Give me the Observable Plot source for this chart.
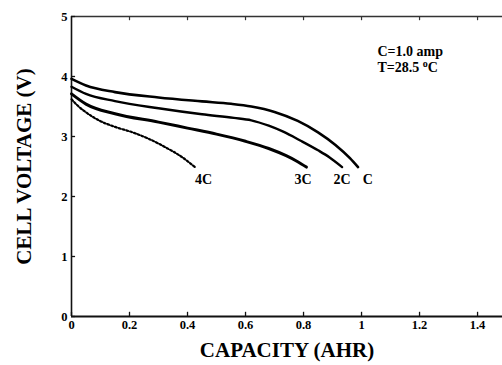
<!DOCTYPE html>
<html>
<head>
<meta charset="utf-8">
<script src="https://cdn.jsdelivr.net/npm/d3@7"></script>
<script src="https://cdn.jsdelivr.net/npm/@observablehq/plot@0.6"></script>
<style>
  html, body { margin: 0; padding: 0; background: white; }
  #chart { width: 502px; height: 365px; overflow: hidden; }
</style>
</head>
<body>
<div id="chart"></div>
<script>
// ---- Data ----
const capC  = [0, 0.05, 0.15, 0.30, 0.45, 0.55, 0.62, 0.70, 0.78, 0.85, 0.91, 0.96, 0.988];
const voltC = [3.96, 3.85, 3.74, 3.65, 3.585, 3.545, 3.50, 3.41, 3.26, 3.07, 2.86, 2.64, 2.49];

const cap2C  = [0, 0.05, 0.15, 0.30, 0.45, 0.56, 0.62, 0.68, 0.73, 0.79, 0.85, 0.89, 0.933];
const volt2C = [3.83, 3.71, 3.59, 3.47, 3.37, 3.31, 3.27, 3.18, 3.08, 2.93, 2.77, 2.65, 2.49];

const cap3C  = [0, 0.05, 0.15, 0.30, 0.40, 0.50, 0.60, 0.68, 0.74, 0.78, 0.81];
const volt3C = [3.71, 3.54, 3.38, 3.24, 3.14, 3.04, 2.92, 2.80, 2.68, 2.58, 2.49];

const cap4C  = [0, 0.02, 0.048, 0.094, 0.15, 0.21, 0.267, 0.324, 0.38, 0.428];
const volt4C = [3.62, 3.52, 3.41, 3.27, 3.16, 3.07, 2.96, 2.82, 2.66, 2.48];

const curveNames = ["4C", "3C", "2C", "C"];
const labelCap   = [0.455, 0.798, 0.933, 1.022];
const labelVolt  = [2.28, 2.28, 2.28, 2.28];

const noteLines = ["C=1.0 amp", "T=28.5 °C"];
const noteCap   = [1.055, 1.055];
const noteVolt  = [4.35, 4.067];

const xTicks = [0, 0.2, 0.4, 0.6, 0.8, 1.0, 1.2, 1.4];
const xTickLabels = ["0", "0.2", "0.4", "0.6", "0.8", "1", "1.2", "1.4"];
const yTicks = [0, 1, 2, 3, 4, 5];
const yTickLabels = ["0", "1", "2", "3", "4", "5"];

const xTitle = "CAPACITY (AHR)";
const yTitle = "CELL VOLTAGE (V)";

// ---- Build tables ----
const toRows = (caps, volts) => caps.map((c, i) => ({cap: c, volt: volts[i]}));
const seriesC  = toRows(capC, voltC);
const series2C = toRows(cap2C, volt2C);
const series3C = toRows(cap3C, volt3C);
const series4C = toRows(cap4C, volt4C);
const labels = curveNames.map((t, i) => ({t, cap: labelCap[i], volt: labelVolt[i]}));
const notes = noteLines.map((t, i) => ({t, cap: noteCap[i], volt: noteVolt[i]}));
const xLab = new Map(xTicks.map((d, i) => [d, xTickLabels[i]]));
const yLab = new Map(yTicks.map((d, i) => [d, yTickLabels[i]]));

const font = "'Liberation Serif', 'Times New Roman', serif";

const chart = Plot.plot({
  width: 502,
  height: 365,
  marginLeft: 71,
  marginRight: 0,
  marginTop: 16,
  marginBottom: 49,
  style: {fontFamily: font, fontWeight: "bold", background: "white", color: "black"},
  x: {domain: [0, 1.486]},
  y: {domain: [0, 5]},
  marks: [
    // frame lines
    Plot.ruleY([0], {stroke: "#111", strokeWidth: 2}),
    Plot.ruleY([5], {stroke: "#333", strokeWidth: 1.5}),
    Plot.ruleX([0], {stroke: "#111", strokeWidth: 1.6}),
    // inward ticks
    Plot.ruleX(xTicks, {x: d => d, y1: 0, y2: 0.07, stroke: "#111", strokeWidth: 1.3}),
    Plot.ruleX(xTicks.filter(d => d > 0), {x: d => d, y1: 5, y2: 4.93, stroke: "#333", strokeWidth: 1.2}),
    Plot.ruleY(yTicks, {y: d => d, x1: 0, x2: 0.014, stroke: "#111", strokeWidth: 1.3}),
    // axes labels
    Plot.axisX(xTicks, {tickSize: 0, tickPadding: 4, tickFormat: d => xLab.get(d), fontSize: 12.5, label: null}),
    Plot.axisY(yTicks, {tickSize: 0, tickPadding: 4, tickFormat: d => yLab.get(d), fontSize: 12.5, label: null}),
    // curves
    Plot.line(seriesC,  {x: "cap", y: "volt", stroke: "black", strokeWidth: 2.6, curve: "monotone-x"}),
    Plot.line(series2C, {x: "cap", y: "volt", stroke: "black", strokeWidth: 2.4, curve: "monotone-x"}),
    Plot.line(series3C, {x: "cap", y: "volt", stroke: "black", strokeWidth: 3, curve: "monotone-x"}),
    Plot.line(series4C, {x: "cap", y: "volt", stroke: "black", strokeWidth: 2.2, strokeDasharray: "2,2", curve: "monotone-x"}),
    // curve labels
    Plot.text(labels, {x: "cap", y: "volt", text: "t", fontSize: 14, fill: "black", textAnchor: "middle", lineAnchor: "middle"}),
    // note
    Plot.text(notes, {x: "cap", y: "volt", text: "t", fontSize: 14, fill: "black", textAnchor: "start", lineAnchor: "bottom"}),
    // titles
    Plot.text([xTitle], {frameAnchor: "bottom", text: d => d, dy: 40, textAnchor: "middle", lineAnchor: "bottom", fontSize: 21, fill: "black"}),
    Plot.text([yTitle], {frameAnchor: "left", text: d => d, dx: -47, rotate: -90, textAnchor: "middle", lineAnchor: "middle", fontSize: 21, fill: "black"})
  ]
});

// superscript "o" for the degree in the temperature note
d3.select(chart).selectAll("text").each(function () {
  const el = d3.select(this);
  if (el.selectAll("tspan").empty() && this.textContent === "T=28.5 °C") {
    this.textContent = "";
    el.append("tspan").text("T=28.5 ");
    el.append("tspan").attr("font-size", 10).attr("dy", -5).text("o");
    el.append("tspan").attr("dy", 5).text("C");
  }
});

document.getElementById("chart").appendChild(chart);
</script>
</body>
</html>
